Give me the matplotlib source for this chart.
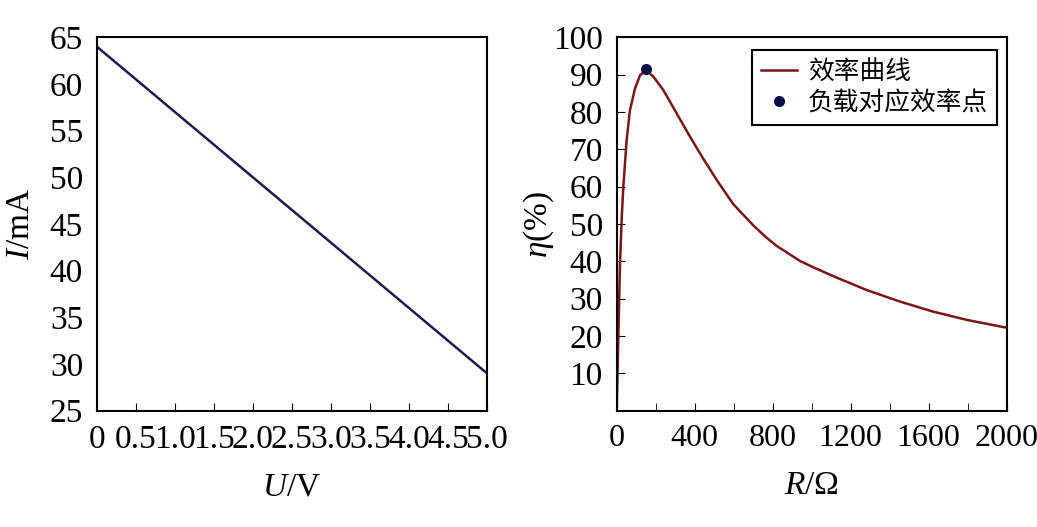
import matplotlib
matplotlib.use("Agg")
import matplotlib.pyplot as plt

plt.rcParams['font.family'] = ['Liberation Serif', 'Noto Sans CJK SC']
plt.rcParams['mathtext.fontset'] = 'custom'
plt.rcParams['mathtext.rm'] = 'Liberation Serif'
plt.rcParams['mathtext.it'] = 'Liberation Serif:italic'

# left panel: I-U line
u_vals = [0.0, 5.0]
i_vals = [64.0, 29.0]
u_ticks = [0, 0.5, 1.0, 1.5, 2.0, 2.5, 3.0, 3.5, 4.0, 4.5, 5.0]
u_labels = ['0', '0.5', '1.0', '1.5', '2.0', '2.5', '3.0', '3.5', '4.0', '4.5', '5.0']
i_ticks = [25, 30, 35, 40, 45, 50, 55, 60, 65]

# right panel: efficiency curve
r_vals = [0, 8, 17, 26, 34, 51, 68, 94, 120, 150, 188, 239, 308, 376, 444,
          513, 598, 701, 769, 821, 940, 1000, 1111, 1282, 1453, 1624, 1795, 2000]
eta_vals = [0, 18.9, 39.5, 52.0, 60.0, 72.5, 80.5, 86.3, 89.9, 91.2, 89.5,
            85.9, 79.6, 73.4, 67.5, 61.8, 55.3, 49.6, 46.3, 44.1, 40.1, 38.6,
            36.0, 32.3, 29.2, 26.5, 24.3, 22.2]
load_r = [150]
load_eta = [91.5]
r_ticks = [0, 400, 800, 1200, 1600, 2000]
r_minor = [200, 600, 1000, 1400, 1800]
eta_ticks = [10, 20, 30, 40, 50, 60, 70, 80, 90, 100]

fig = plt.figure(figsize=(10.37, 5.27), dpi=100)
ax1 = fig.add_axes([0.0935, 0.221, 0.376, 0.708])
ax2 = fig.add_axes([0.5947, 0.221, 0.376, 0.708])

fs = 24

ax1.plot(u_vals, i_vals, color='#1c1c4e', lw=1.8)
ax1.set_xlim(0, 5)
ax1.set_ylim(25, 65)
ax1.set_xticks(u_ticks)
ax1.set_xticklabels(u_labels)
ax1.set_yticks(i_ticks)
ax1.tick_params(axis='x', direction='in', length=6, labelsize=fs, pad=10)
ax1.tick_params(axis='y', direction='in', length=0, labelsize=fs, pad=10)
ax1.set_xlabel('$\\mathit{U}$/V', fontsize=fs, labelpad=12)
ax1.set_ylabel('$\\mathit{I}$/mA', fontsize=fs, labelpad=10)

ax2.plot(r_vals, eta_vals, color='#7a1616', lw=1.8, label='效率曲线')
ax2.plot(load_r, load_eta, 'o', color='#0b0b45', ms=7, label='负载对应效率点')
ax2.set_xlim(0, 2000)
ax2.set_ylim(0, 100)
ax2.set_xticks(r_ticks)
ax2.set_xticks(r_minor, minor=True)
ax2.set_yticks(eta_ticks)
ax2.tick_params(axis='both', which='both', direction='in', length=6, labelsize=fs)
ax2.tick_params(axis='x', pad=10, labelsize=23)
ax2.tick_params(axis='y', pad=10)
ax2.set_xlabel('$\\mathit{R}$/Ω', fontsize=fs, labelpad=12)
ax2.set_ylabel('$\\mathit{η}$(%)', fontsize=fs, labelpad=-2)

leg = ax2.legend(loc='upper right', bbox_to_anchor=(0.975, 0.966),
                 borderaxespad=0, frameon=True, fancybox=False,
                 edgecolor='black', framealpha=1,
                 handlelength=1.4, handletextpad=0.4, borderpad=0.35,
                 labelspacing=0.2,
                 prop={'family': ['Noto Sans CJK SC'], 'size': 18.5})
leg.get_frame().set_linewidth(1.5)

for ax in (ax1, ax2):
    for s in ax.spines.values():
        s.set_linewidth(1.5)

fig.savefig('out.png', dpi=100)
